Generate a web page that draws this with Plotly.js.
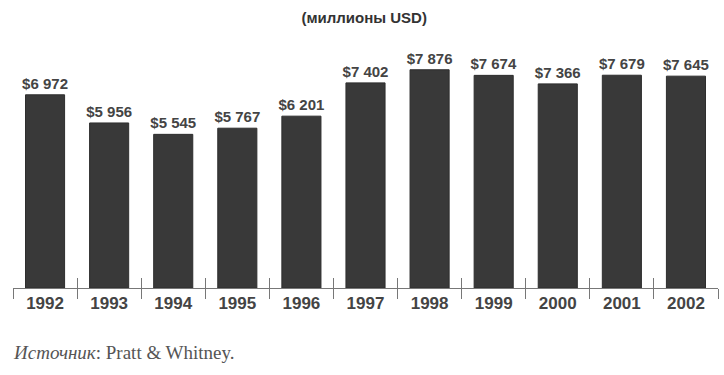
<!DOCTYPE html>
<html>
<head>
<meta charset="utf-8">
<script src="https://cdn.plot.ly/plotly-3.0.1.min.js"></script>
<style>html,body{margin:0;padding:0;background:#fff;}#chart{width:724px;height:375px;}</style>
</head>
<body>
<div id="chart"></div>
<script>
const years = ["1992","1993","1994","1995","1996","1997","1998","1999","2000","2001","2002"];
const revenue = [6972, 5956, 5545, 5767, 6201, 7402, 7876, 7674, 7366, 7679, 7645];
const titleText = "(миллионы USD)";
const sourceLabel = "Источник";
const sourceText = "Pratt & Whitney.";

function fmt(v) {
  return "$" + String(v).replace(/\B(?=(\d{3})+(?!\d))/g, " ");
}

const bars = {
  type: "bar",
  x: years,
  y: revenue,
  text: revenue.map(fmt),
  textposition: "outside",
  constraintext: "none",
  cliponaxis: false,
  textfont: {family: "Liberation Sans, Arial, sans-serif", size: 15, color: "#444", weight: "bold"},
  marker: {color: "#393939", line: {color: "#2e2e2e", width: 1}},
  hoverinfo: "x+y"
};
const ghost = {
  type: "bar",
  x: years,
  y: revenue,
  xaxis: "x2",
  marker: {color: "rgba(0,0,0,0)"},
  hoverinfo: "skip",
  showlegend: false
};

const layout = {
  width: 724, height: 375,
  margin: {l: 13, r: 6, t: 40, b: 87},
  paper_bgcolor: "#fff", plot_bgcolor: "#fff",
  showlegend: false,
  bargap: 0.39,
  title: {text: "<b>" + titleText + "</b>", x: 0.503, xanchor: "center", y: 0.952, yanchor: "middle",
          font: {family: "Liberation Sans, Arial, sans-serif", size: 15, color: "#333"}},
  xaxis: {
    type: "category",
    range: [-0.5, 10.5],
    showline: true, linecolor: "#777", linewidth: 1,
    ticks: "outside", ticklen: 10, tickcolor: "#777", tickwidth: 1,
    tickson: "boundaries",
    tickfont: {family: "Liberation Sans, Arial, sans-serif", size: 17, color: "#444", weight: "bold"},
    showgrid: false, zeroline: false, fixedrange: true
  },
  xaxis2: {
    type: "category",
    overlaying: "x",
    anchor: "y",
    side: "bottom",
    range: [-0.5, 10.5],
    showline: false,
    ticks: "inside", ticklen: 10, tickcolor: "#777", tickwidth: 1,
    tickson: "boundaries",
    showticklabels: false,
    showgrid: false, zeroline: false, fixedrange: true
  },
  yaxis: {visible: false, range: [0, 8950], fixedrange: true},
  annotations: [{
    xref: "paper", yref: "paper", x: -0.003, y: -0.26, xanchor: "left", yanchor: "middle",
    showarrow: false,
    text: "<i>" + sourceLabel + "</i>: " + sourceText,
    font: {family: "Liberation Serif, Times New Roman, serif", size: 19, color: "#555"}
  }]
};

Plotly.newPlot("chart", [bars, ghost], layout, {displayModeBar: false, staticPlot: true});
</script>
</body>
</html>
